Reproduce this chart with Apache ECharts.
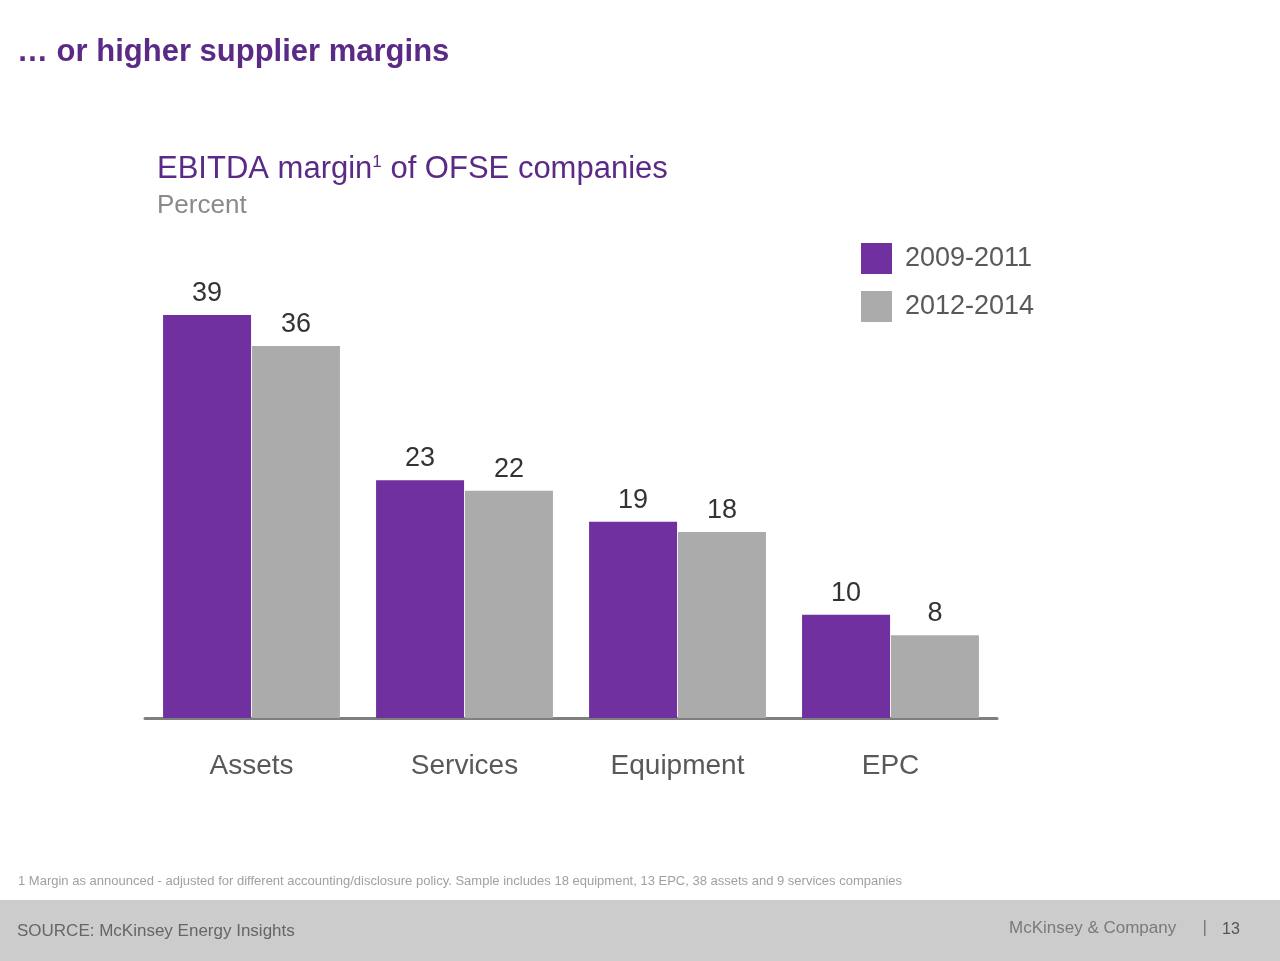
<!DOCTYPE html>
<html><head><meta charset="utf-8">
<script src="https://cdn.jsdelivr.net/npm/echarts@6/dist/echarts.min.js"></script>
<style>html,body{margin:0;padding:0;background:#fff}#c{width:1280px;height:961px}</style>
</head><body><div id="c"></div>
<script>
const categories = ['Assets','Services','Equipment','EPC'];
const series1Name = '2009-2011';
const series2Name = '2012-2014';
const values1 = [39,23,19,10];
const values2 = [36,22,18,8];
const F = 'Liberation Sans';
const chart = echarts.init(document.getElementById('c'));
chart.setOption({
  animation:false,
  textStyle:{fontFamily:F},
  grid:{left:145,right:283,top:253,bottom:243},
  xAxis:{type:'category',data:categories,
    axisLine:{lineStyle:{color:'#7f7f7f',width:3}},axisTick:{show:false},
    axisLabel:{fontSize:28,color:'#595959',margin:34,fontFamily:F}},
  yAxis:{type:'value',min:0,max:45,show:false,splitLine:{show:false}},
  legend:{left:856,top:238,orient:'vertical',itemWidth:31,itemHeight:31,itemGap:17,
    icon:'rect',textStyle:{fontSize:27,color:'#595959',fontFamily:F,padding:[0,0,0,8]},
    data:[series1Name,series2Name]},
  series:[
    {name:series1Name,type:'bar',data:values1,barWidth:88,barGap:'1%',
     itemStyle:{color:'#7030A0'},
     label:{show:true,position:'top',fontSize:27,color:'#333',distance:8,fontFamily:F}},
    {name:series2Name,type:'bar',data:values2,barWidth:88,
     itemStyle:{color:'#ABABAB'},
     label:{show:true,position:'top',fontSize:27,color:'#333',distance:8,fontFamily:F}}
  ],
  graphic:[
    {type:'text',left:17,top:37,style:{text:'… or higher supplier margins',fontSize:31,fontWeight:'bold',fill:'#5B2A86',fontFamily:F}},
    {type:'text',left:157,top:154,style:{text:'{a|EBITDA margin}{s|1}{a| of OFSE companies}',fontFamily:F,
      rich:{a:{fontSize:31,fill:'#5B2A86',fontFamily:F},s:{fontSize:17,fill:'#5B2A86',verticalAlign:'top',padding:[0,0,14,0],fontFamily:F}}}},
    {type:'text',left:157,top:193,style:{text:'Percent',fontSize:26,fill:'#8a8a8a',fontFamily:F}},
    {type:'text',left:18,top:875,style:{text:'1 Margin as announced - adjusted for different accounting/disclosure policy. Sample includes 18 equipment, 13 EPC, 38 assets and 9 services companies',fontSize:13,fill:'#a0a0a0',fontFamily:F}},
    {type:'rect',left:0,top:900,shape:{width:1280,height:61},style:{fill:'#CCCCCC'}},
    {type:'text',left:17,top:923,style:{text:'SOURCE: McKinsey Energy Insights',fontSize:17,fill:'#666',fontFamily:F}},
    {type:'text',left:1009,top:920,style:{text:'McKinsey & Company',fontSize:17,fill:'#7a7a7a',fontFamily:F}},
    {type:'rect',left:1204,top:920,shape:{width:1.5,height:16},style:{fill:'#7a7a7a'}},
    {type:'text',left:1222,top:922,style:{text:'13',fontSize:16,fill:'#555',fontFamily:F}}
  ]
});
</script></body></html>
